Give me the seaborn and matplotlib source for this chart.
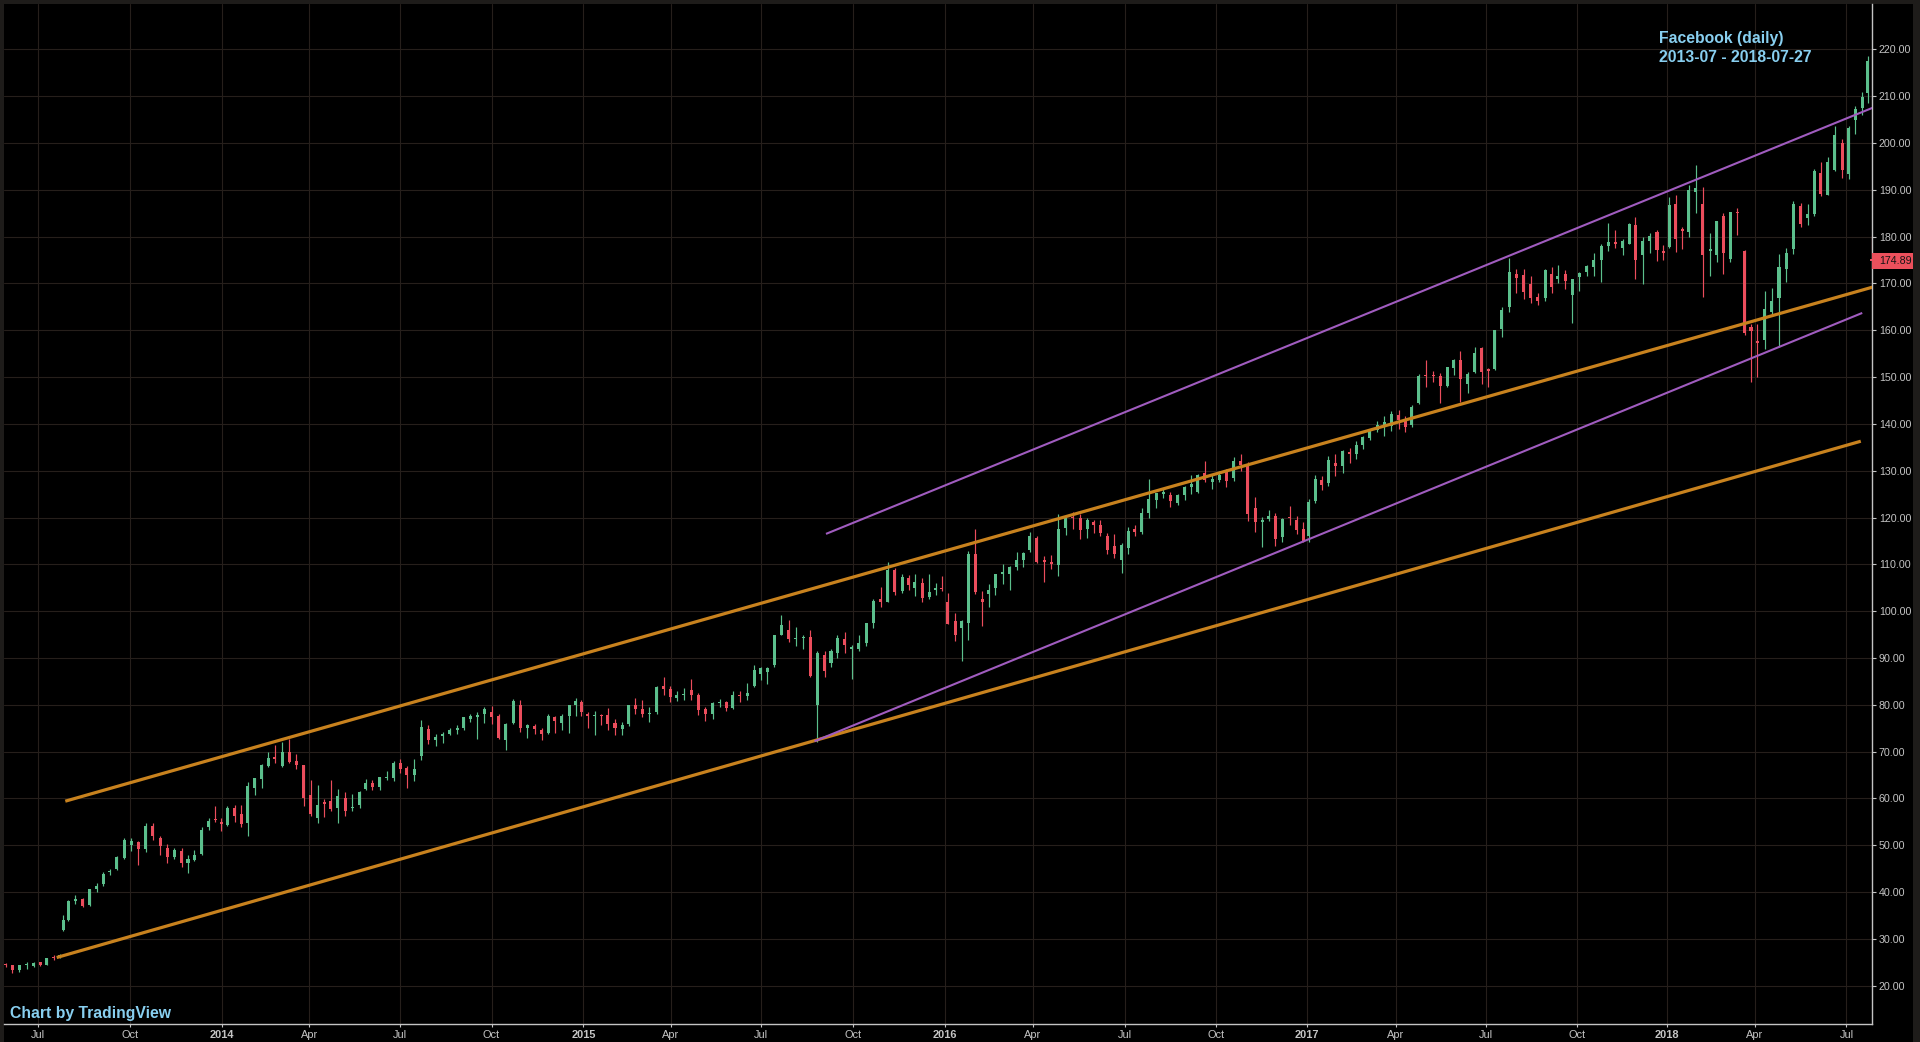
import numpy as np
import pandas as pd
import matplotlib
matplotlib.use("Agg")
import matplotlib.pyplot as plt
import matplotlib.transforms as mtransforms
from matplotlib.patches import Rectangle
import seaborn as sns
from pandas.tseries.holiday import (AbstractHolidayCalendar, Holiday, nearest_workday,
                                    USMartinLutherKingJr, USPresidentsDay, GoodFriday,
                                    USMemorialDay, USLaborDay, USThanksgivingDay)

# ------------------------------------------------------------------ data
title_lines = ["Facebook (daily)", "2013-07 - 2018-07-27"]
credit_text = "Chart by TradingView"
last_price = 174.89

# weekly candles (Mondays) plus two earnings-gap splits drawn as their own candles
week_first = "2013-05-27"
week_last = "2018-07-23"
split_starts = ["2013-07-25", "2018-07-26"]
data_end = "2018-07-27"

opens = [
    # 2013
    24.6, 24.3, 23.3, 24.4, 24.2, 25.0, 24.5, 26.0, 26.1, 31.9, 34.1, 38.0, 38.5, 37.2, 40.6, 41.8, 44.2,
    44.9, 47.2, 50.1, 50.7, 49.2, 54.2, 51.5, 49.4, 47.5, 48.8, 46.3, 46.9, 48.1, 53.8, 55.5, 54.9,
    # 2014
    54.4, 57.9, 56.6, 54.7, 62.3, 64.2, 67.0, 68.7, 67.0, 70.0, 68.0, 67.2, 60.8, 55.9, 59.0, 59.5, 58.0, 60.0,
    57.9, 58.5, 62.0, 63.2, 62.4, 64.4, 64.3, 67.5, 66.5, 65.0, 69.0, 74.9, 72.4, 73.4, 73.8, 74.7, 75.0, 77.0,
    77.4, 78.0, 78.5, 77.5, 72.4, 76.0, 80.0, 75.0, 75.4, 74.6, 74.0, 77.3, 76.2, 77.5, 80.0, 80.5,
    # 2015
    78.0, 77.6, 77.9, 77.8, 76.0, 74.9, 75.9, 79.9, 79.0, 78.0, 78.5, 84.0, 83.3, 81.5, 82.0, 83.2, 82.0, 79.0,
    78.0, 80.3, 80.5, 79.3, 82.0, 81.8, 84.0, 86.5, 87.0, 88.5, 95.0, 96.0, 94.0, 94.2, 94.5, 80.0, 90.6, 89.0,
    91.0, 94.0, 92.0, 92.0, 93.2, 97.5, 102.5, 102.0, 108.7, 104.3, 107.0, 105.0, 106.0, 103.0, 104.5, 105.0,
    # 2016
    101.9, 97.9, 96.5, 97.5, 112.3, 102.5, 103.7, 105.0, 108.0, 108.0, 109.5, 111.0, 113.0, 115.7, 110.9, 110.5,
    109.9, 117.8, 120.0, 119.8, 117.5, 119.0, 118.5, 116.0, 114.0, 111.0, 113.5, 117.5, 117.0, 121.0, 123.8,
    125.1, 124.8, 123.0, 124.8, 126.5, 125.5, 129.5, 127.5, 128.0, 130.0, 128.5, 132.0, 131.0, 122.0, 119.1,
    119.6, 120.4, 115.9, 120.0, 119.5, 117.5,
    # 2017
    116.0, 123.5, 128.0, 127.3, 131.6, 131.0, 134.0, 133.5, 135.4, 137.0, 138.8, 139.8, 139.5, 142.0, 140.8,
    139.8, 144.5, 150.5, 150.5, 150.2, 148.2, 152.0, 153.6, 148.5, 151.0, 156.2, 151.7, 151.7, 160.3, 165.0,
    172.0, 171.9, 169.8, 167.2, 166.8, 172.0, 171.0, 172.0, 167.5, 171.4, 172.5, 173.5, 175.0, 178.0, 178.6,
    177.5, 178.5, 182.5, 176.0, 179.0, 181.0, 177.0,
    # 2018
    177.7, 187.0, 181.5, 181.0, 189.5, 186.9, 177.0, 176.0, 184.4, 175.2, 185.2, 177.0, 160.8, 157.8, 157.9,
    164.0, 166.8, 173.0, 177.4, 186.5, 184.0, 184.9, 193.5, 189.0, 194.3, 200.0, 193.4, 204.9, 207.5, 210.6,
    175.0,
]
highs = [
    # 2013
    24.9, 24.4, 24.5, 25.0, 25.1, 25.1, 26.0, 26.6, 26.8, 35.0, 38.3, 39.3, 38.8, 40.6, 41.9, 44.3, 45.0,
    47.6, 51.6, 51.6, 51.0, 54.8, 54.8, 52.0, 50.3, 49.5, 49.4, 48.0, 49.0, 53.8, 55.9, 58.3, 55.8,
    # 2014
    58.4, 58.6, 58.6, 63.4, 64.4, 67.3, 70.0, 71.4, 72.0, 72.6, 69.5, 67.2, 63.9, 62.9, 59.9, 63.9, 61.9, 61.3,
    60.9, 61.5, 64.2, 64.0, 64.6, 65.8, 67.9, 68.4, 66.9, 68.4, 76.7, 75.7, 73.7, 74.1, 75.0, 75.6, 77.3, 78.0,
    78.5, 79.5, 79.8, 78.0, 76.0, 81.2, 81.0, 75.9, 75.9, 75.0, 78.0, 77.5, 78.0, 79.9, 81.5, 81.0,
    # 2015
    78.5, 78.6, 78.0, 79.4, 76.9, 76.4, 80.0, 81.4, 81.0, 79.5, 84.0, 86.0, 84.0, 83.0, 83.5, 85.6, 82.5, 79.5,
    80.5, 81.2, 80.8, 83.0, 83.0, 84.7, 88.4, 88.0, 88.0, 95.0, 99.2, 98.0, 96.7, 95.0, 96.0, 91.5, 91.5, 92.0,
    95.0, 95.5, 92.8, 95.0, 97.5, 102.6, 105.1, 110.6, 109.3, 107.9, 107.7, 107.9, 107.0, 107.9, 106.0, 107.4,
    # 2016
    103.8, 99.5, 98.2, 112.8, 117.6, 104.2, 105.9, 108.0, 110.0, 109.6, 112.6, 112.6, 117.0, 116.0, 111.7,
    112.0, 120.8, 120.0, 121.1, 120.8, 120.0, 119.5, 119.4, 116.7, 116.4, 114.6, 117.9, 118.5, 122.0, 128.3,
    125.3, 126.2, 125.4, 125.0, 126.7, 129.1, 129.3, 132.0, 129.3, 130.0, 130.4, 133.0, 133.5, 131.9, 124.4,
    120.2, 121.5, 120.9, 120.0, 122.5, 120.3, 119.0,
    # 2017
    123.9, 129.0, 128.8, 133.1, 133.5, 134.4, 134.9, 136.3, 137.5, 139.0, 140.6, 141.6, 142.8, 142.9, 141.6,
    144.0, 150.6, 153.6, 151.3, 150.9, 152.2, 153.9, 155.5, 151.0, 156.5, 156.5, 152.0, 160.0, 165.0, 175.5,
    173.0, 173.0, 171.7, 168.0, 173.0, 173.5, 174.0, 172.8, 171.0, 172.4, 174.0, 176.5, 178.5, 182.9, 181.5,
    179.6, 183.0, 184.2, 180.0, 180.8, 181.5, 178.3,
    # 2018
    188.4, 188.9, 182.0, 191.0, 195.3, 190.6, 180.8, 183.4, 185.1, 185.3, 186.1, 177.2, 161.4, 161.4, 168.4,
    169.0, 176.3, 177.5, 187.7, 187.1, 186.9, 194.5, 195.9, 197.1, 203.6, 200.8, 203.6, 207.9, 211.0, 218.6,
    180.1,
]
lows = [
    # 2013
    23.9, 22.8, 23.0, 23.5, 23.9, 24.2, 24.3, 25.4, 25.9, 31.7, 33.8, 37.4, 36.9, 37.0, 40.1, 41.2, 43.6,
    44.6, 47.0, 48.7, 45.7, 48.5, 51.2, 48.0, 46.3, 47.0, 45.3, 44.0, 46.7, 47.8, 53.3, 55.0, 53.0,
    # 2014
    54.0, 55.0, 53.8, 51.9, 60.7, 62.3, 66.7, 67.6, 66.6, 67.6, 66.3, 58.4, 56.2, 54.7, 56.0, 57.3, 54.7, 56.3,
    57.3, 57.9, 61.7, 61.8, 61.8, 63.9, 63.8, 65.5, 62.2, 63.7, 68.3, 71.6, 71.2, 71.8, 73.5, 73.8, 74.5, 76.4,
    72.6, 76.1, 75.9, 72.6, 70.3, 75.8, 74.2, 73.0, 73.8, 72.5, 73.7, 74.0, 74.7, 74.0, 77.5, 77.5,
    # 2015
    75.0, 73.5, 75.6, 74.6, 73.5, 73.5, 75.5, 78.0, 77.4, 76.4, 78.0, 82.0, 80.6, 80.9, 81.0, 81.0, 77.9, 76.6,
    76.9, 79.5, 78.6, 79.0, 80.6, 81.0, 83.8, 85.2, 84.5, 88.0, 95.0, 93.3, 92.5, 92.0, 86.0, 72.0, 86.0, 88.0,
    90.0, 91.0, 85.5, 91.5, 92.5, 96.5, 100.8, 101.9, 103.5, 103.8, 104.5, 103.2, 102.0, 102.5, 103.5, 104.2,
    # 2016
    97.3, 93.7, 89.4, 93.9, 103.7, 96.8, 100.8, 103.5, 105.8, 104.6, 108.7, 109.5, 112.7, 110.3, 106.3, 108.9,
    107.5, 116.2, 117.5, 115.5, 115.6, 116.6, 116.0, 112.2, 111.4, 108.2, 112.3, 116.0, 116.5, 120.0, 122.1,
    124.2, 122.2, 122.6, 123.8, 125.0, 125.2, 127.5, 126.0, 127.5, 126.6, 127.8, 130.0, 119.2, 116.9, 113.6,
    119.2, 114.0, 114.7, 118.4, 116.5, 114.8,
    # 2017
    114.8, 123.0, 125.8, 126.7, 128.9, 129.6, 131.6, 132.6, 134.6, 136.6, 138.2, 137.5, 138.5, 139.0, 138.3,
    139.3, 144.2, 147.9, 148.9, 144.5, 147.8, 150.4, 144.6, 146.5, 150.8, 148.6, 147.8, 151.5, 158.5, 163.8,
    168.0, 166.6, 165.8, 165.5, 166.3, 168.0, 170.0, 168.8, 161.6, 168.3, 171.6, 171.5, 170.3, 177.0, 177.5,
    176.1, 178.5, 170.9, 169.8, 176.6, 174.8, 175.0,
    # 2018
    177.5, 176.8, 177.4, 179.9, 185.0, 167.2, 171.6, 174.6, 172.0, 174.6, 180.4, 159.0, 149.0, 150.0, 156.0,
    163.0, 156.5, 170.3, 176.3, 182.1, 182.5, 184.5, 188.6, 188.9, 194.0, 192.5, 192.3, 202.0, 206.0, 208.5,
    173.0,
]
closes = [
    # 2013
    24.35, 23.3, 24.4, 24.5, 24.9, 24.4, 25.9, 25.9, 26.5, 34.0, 38.05, 38.5, 37.1, 40.55, 41.3, 43.95, 44.3,
    47.5, 51.2, 51.0, 49.2, 54.2, 51.95, 49.75, 47.5, 49.0, 46.2, 47.0, 47.9, 53.3, 55.1, 55.4, 54.6,
    # 2014
    57.9, 56.3, 54.45, 62.6, 64.3, 67.1, 68.6, 68.5, 69.8, 67.7, 67.2, 60.0, 56.75, 58.5, 58.9, 57.7, 60.5, 57.2,
    58.0, 61.35, 63.3, 62.5, 64.5, 64.5, 67.6, 66.3, 65.0, 66.3, 75.2, 72.4, 73.1, 73.6, 74.6, 74.8, 77.3, 77.5,
    77.9, 79.0, 77.4, 72.9, 75.95, 80.7, 75.0, 75.6, 74.9, 73.75, 77.7, 76.5, 77.7, 79.9, 80.8, 78.45,
    # 2015
    77.7, 77.8, 77.5, 75.9, 75.0, 75.7, 79.9, 79.0, 78.05, 78.05, 83.8, 83.3, 81.6, 82.0, 82.0, 82.0, 78.8, 78.1,
    80.4, 80.5, 79.2, 82.0, 81.8, 82.5, 87.5, 87.95, 87.9, 94.97, 96.95, 94.0, 94.3, 94.2, 86.06, 91.0, 87.3,
    91.4, 94.3, 92.8, 92.1, 93.2, 97.5, 102.2, 102.0, 108.8, 104.0, 107.3, 105.5, 106.2, 102.9, 104.0, 105.0,
    104.7,
    # 2016
    97.3, 95.0, 97.9, 112.2, 104.1, 102.0, 104.6, 107.9, 108.4, 109.4, 111.0, 112.5, 116.1, 110.6, 110.5, 110.1,
    117.6, 119.8, 119.8, 117.4, 119.4, 118.5, 116.6, 113.0, 112.1, 114.2, 117.2, 116.9, 121.0, 123.9, 125.2,
    125.4, 123.5, 124.9, 126.5, 127.1, 129.1, 128.0, 128.3, 129.0, 127.9, 132.1, 131.3, 120.75, 119.0, 119.4,
    120.4, 115.4, 119.7, 119.9, 117.3, 115.05,
    # 2017
    123.4, 128.3, 127.0, 132.2, 131.0, 134.2, 133.5, 135.4, 137.2, 138.8, 139.8, 140.3, 142.05, 140.8, 139.4,
    143.7, 150.25, 150.2, 150.3, 148.1, 152.1, 153.6, 149.6, 150.6, 155.1, 151.0, 151.4, 160.0, 164.4, 172.45,
    171.2, 168.1, 166.9, 166.3, 172.9, 169.2, 171.6, 170.5, 170.9, 172.2, 173.7, 175.0, 177.9, 178.9, 178.5,
    179.0, 182.8, 175.1, 179.0, 180.2, 177.2, 176.5,
    # 2018
    186.85, 179.4, 181.3, 190.0, 190.3, 176.1, 177.4, 183.3, 176.6, 185.2, 185.1, 159.4, 159.8, 157.2, 164.5,
    166.3, 173.6, 176.6, 187.0, 182.7, 184.9, 194.0, 189.1, 195.85, 201.7, 194.3, 203.2, 207.3, 209.9, 217.5,
    174.89,
]

price_ticks = list(range(20, 221, 10))
quarter_months = [1, 4, 7, 10]
month_abbr = {4: "Apr", 7: "Jul", 10: "Oct"}

# trend lines: (date, price) anchors
orange_upper = [("2013-07-29", 59.4), ("2018-07-27", 169.2)]
orange_lower = [("2013-07-19", 26.0), ("2018-07-17", 136.3)]
purple_upper = [("2015-09-03", 116.5), ("2018-07-27", 207.5)]
purple_lower = [("2015-08-24", 72.2), ("2018-07-18", 163.7)]

# ------------------------------------------------------------------ styling
BORDER = "#1e1c1a"
GRID = "#261f1b"
AXIS = "#c4c4c4"
UP = "#5bbf8c"
DOWN = "#eb4d5c"
ORANGE = "#c8821e"
PURPLE = "#a05cbf"
TITLE_BLUE = "#88cff0"
LABEL_RED = "#ec505c"

sns.set_style("dark", rc={"axes.facecolor": "black", "figure.facecolor": BORDER})
plt.rcParams["font.family"] = ["Liberation Sans", "DejaVu Sans"]


class NYSECalendar(AbstractHolidayCalendar):
    rules = [
        Holiday("NewYear", month=1, day=1, observance=nearest_workday),
        USMartinLutherKingJr, USPresidentsDay, GoodFriday, USMemorialDay,
        Holiday("July4", month=7, day=4, observance=nearest_workday),
        USLaborDay, USThanksgivingDay,
        Holiday("Christmas", month=12, day=25, observance=nearest_workday),
    ]


hol = NYSECalendar().holidays("2013-01-01", "2018-12-31")
tdays = pd.bdate_range("2013-04-01", "2018-09-28", freq="C", holidays=hol)
origin = tdays.searchsorted(pd.Timestamp("2013-07-01"))


def xpos(d):
    return tdays.searchsorted(pd.Timestamp(d)) - origin


starts = sorted(list(pd.date_range(week_first, week_last, freq="W-MON")) +
                [pd.Timestamp(s) for s in split_starts])
assert len(starts) == len(opens) == len(highs) == len(lows) == len(closes), (
    len(starts), len(opens), len(highs), len(lows), len(closes))
bounds = starts + [pd.Timestamp(data_end) + pd.Timedelta(days=1)]
centers = []
for a, b in zip(bounds[:-1], bounds[1:]):
    i0 = tdays.searchsorted(a)
    i1 = tdays.searchsorted(b)
    centers.append((i0 + i1 - 1) / 2.0 - origin)

df = pd.DataFrame({"x": centers, "open": opens, "high": highs, "low": lows, "close": closes})
df["up"] = df["close"] >= df["open"]
df["color"] = np.where(df["up"], UP, DOWN)

# ------------------------------------------------------------------ figure
W, H = 1920, 1042
fig = plt.figure(figsize=(W / 100, H / 100), dpi=100, facecolor=BORDER)


def fbox(x0, y0, x1, y1):
    return [x0 / W, 1 - y1 / H, (x1 - x0) / W, (y1 - y0) / H]


fig.add_artist(Rectangle((4 / W, 0), (1913 - 4) / W, (H - 4) / H, transform=fig.transFigure,
                         facecolor="black", edgecolor="none", zorder=0))
ax = fig.add_axes(fbox(4, 4, 1872, 1024))
ax.set_facecolor("black")

# candles
ax.vlines(df["x"], df["low"], df["high"], colors=df["color"], linewidth=0.85, zorder=2)
body_bottom = np.minimum(df["open"], df["close"])
body_height = np.maximum((df["close"] - df["open"]).abs(), 0.25)
ax.bar(df["x"], body_height, bottom=body_bottom, width=2.1, color=df["color"],
       linewidth=0, zorder=2)

# trend lines
for line, col, lw in [(orange_upper, ORANGE, 2.3), (orange_lower, ORANGE, 2.3),
                      (purple_upper, PURPLE, 1.5), (purple_lower, PURPLE, 1.5)]:
    xs = [xpos(d) for d, _ in line]
    ys = [p for _, p in line]
    sns.lineplot(x=xs, y=ys, ax=ax, color=col, linewidth=lw, legend=False, zorder=3,
                 solid_capstyle="butt")

# axes limits & scale
ax.set_xlim(-23.7, 1277.8)
ax.set_ylim(11.8, 229.7)

# ticks
xt, xl, xbold = [], [], []
for yr in range(2013, 2019):
    for m in quarter_months:
        d = pd.Timestamp(year=yr, month=m, day=1)
        if d < pd.Timestamp("2013-07-01") or d > pd.Timestamp(data_end):
            continue
        xt.append(xpos(d))
        xl.append(str(yr) if m == 1 else month_abbr[m])
        xbold.append(m == 1)
ax.set_xticks(xt)
ax.set_xticklabels(xl)
for lab, b in zip(ax.get_xticklabels(), xbold):
    if b:
        lab.set_fontweight("bold")

ax.yaxis.tick_right()
ax.set_yticks(price_ticks)
ax.set_yticklabels([f"{p:.2f}" for p in price_ticks])

ax.tick_params(axis="y", which="major", right=True, left=False, labelright=True, labelleft=False,
               length=3, width=0.8, color=AXIS, labelcolor=AXIS, labelsize=7.7, pad=2.0)
ax.tick_params(axis="x", which="major", bottom=True, length=2.2, width=0.8, color=AXIS,
               labelcolor=AXIS, labelsize=7.9, pad=2.2)

ax.grid(True, color=GRID, linewidth=0.8)
ax.set_axisbelow(True)
for side in ["left", "top"]:
    ax.spines[side].set_visible(False)
for side in ["right", "bottom"]:
    ax.spines[side].set_visible(True)
    ax.spines[side].set_color(AXIS)
    ax.spines[side].set_linewidth(1.0)
ax.set_xlabel("")
ax.set_ylabel("")

# last price label
blend = mtransforms.blended_transform_factory(ax.transAxes, ax.transData)
box_h = 16 / 4.681
ax.add_patch(Rectangle((1.0, last_price - box_h / 2), 41 / 1868, box_h, transform=blend,
                       facecolor=LABEL_RED, edgecolor="none", clip_on=False, zorder=6))
ax.text(1.0 + 7 / 1868, last_price, f"{last_price:.2f}", transform=blend, ha="left", va="center",
        fontsize=7.7, color="#141414", clip_on=False, zorder=7)

# title texts
fig.text(1659 / W, 1 - 43.3 / H, title_lines[0], ha="left", va="baseline", fontsize=11.3,
         fontweight="bold", color=TITLE_BLUE)
fig.text(1659 / W, 1 - 62.3 / H, title_lines[1], ha="left", va="baseline", fontsize=11.3,
         fontweight="bold", color=TITLE_BLUE)
fig.text(10 / W, 1 - 1018.3 / H, credit_text, ha="left", va="baseline", fontsize=11.3,
         fontweight="bold", color=TITLE_BLUE)

fig.savefig("out.png", dpi=100, facecolor=fig.get_facecolor())
